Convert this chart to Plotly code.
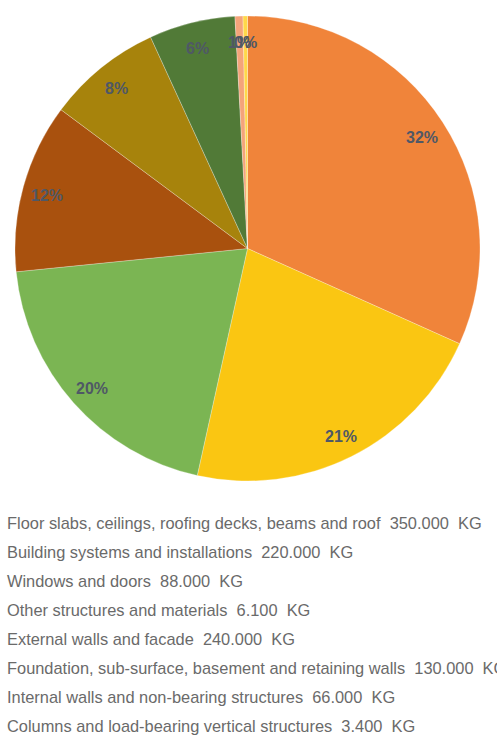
import math
import plotly.graph_objects as go

# Mass by building element group (kg), in legend order
categories = [
    "Floor slabs, ceilings, roofing decks, beams and roof",
    "Building systems and installations",
    "Windows and doors",
    "Other structures and materials",
    "External walls and facade",
    "Foundation, sub-surface, basement and retaining walls",
    "Internal walls and non-bearing structures",
    "Columns and load-bearing vertical structures",
]
mass_kg = [350000, 220000, 88000, 6100, 240000, 130000, 66000, 3400]
mass_labels = ["350.000", "220.000", "88.000", "6.100", "240.000", "130.000", "66.000", "3.400"]

# Slice order (largest first) with the rounded share printed on each slice
pie_order = [0, 4, 1, 5, 2, 6, 3, 7]
share_labels = ["32%", "21%", "20%", "12%", "8%", "6%", "1%", "0%"]
slice_colors = ["#F0843A", "#FAC612", "#7BB553", "#A9510E",
                "#A7830C", "#517A37", "#F4A47A", "#FFD84A"]

W, H = 497, 740
dom_x = [15 / W, 480 / W]
dom_y = [1 - 482 / H, 1 - 15 / H]

vals = [mass_kg[i] for i in pie_order]
labs = [categories[i] for i in pie_order]

fig = go.Figure(go.Pie(
    labels=labs,
    values=vals,
    sort=False,
    direction="clockwise",
    rotation=0,
    marker=dict(colors=slice_colors, line=dict(color="rgba(255,255,255,0.45)", width=0.6)),
    textinfo="none",
    hoverinfo="label+value+percent",
    domain=dict(x=dom_x, y=dom_y),
    showlegend=False,
))

# Share labels placed near the rim along each slice's mid-angle
cx = (dom_x[0] + dom_x[1]) / 2 * W
cy = (1 - (dom_y[0] + dom_y[1]) / 2) * H
radius = min((dom_x[1] - dom_x[0]) * W, (dom_y[1] - dom_y[0]) * H) / 2
total = sum(vals)
acc = 0.0
annotations = []
for v, txt in zip(vals, share_labels):
    mid = (acc + v / 2) / total * 2 * math.pi
    acc += v
    d = radius * 0.895
    px = cx + d * math.sin(mid)
    py = cy - d * math.cos(mid) + 2
    annotations.append(dict(
        x=px / W, y=1 - py / H, xref="paper", yref="paper",
        text="<b>%s</b>" % txt, showarrow=False,
        xanchor="center", yanchor="middle",
        font=dict(family="Liberation Sans, Arial, sans-serif", size=16, color="#4F5866"),
    ))

# Text legend under the pie
nb = "\u00a0"
legend_y0, legend_dy = 523, 29
for i, (name, m) in enumerate(zip(categories, mass_labels)):
    annotations.append(dict(
        x=5 / W, y=1 - (legend_y0 + i * legend_dy) / H, xref="paper", yref="paper",
        text=f"{name}{nb}{nb}{m}{nb}{nb}KG", showarrow=False,
        xanchor="left", yanchor="middle", align="left",
        font=dict(family="Liberation Sans, Arial, sans-serif", size=16.4, color="#6A6A6A"),
    ))

fig.update_layout(
    width=W, height=H,
    margin=dict(l=0, r=0, t=0, b=0),
    paper_bgcolor="white",
    plot_bgcolor="white",
    annotations=annotations,
)

fig.write_html("out.html")
